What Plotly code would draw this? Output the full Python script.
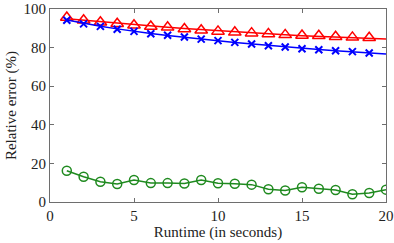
import plotly.graph_objects as go

runtime = list(range(1, 20))
runtime_line = list(range(1, 21))
red_pts = [95.6, 94.2, 93.1, 92.4, 91.6, 90.9, 90.5, 89.6, 89.0, 88.4, 87.9, 87.5, 87.1, 86.6, 86.3, 86.1, 85.6, 85.3, 85.1]
red_fit = [95.0, 94.2, 93.4, 92.6, 91.9, 91.2, 90.5, 89.9, 89.3, 88.7, 88.1, 87.6, 87.1, 86.6, 86.2, 85.8, 85.4, 85.1, 84.8, 84.5]
blue_pts = [94.2, 92.3, 91.0, 89.5, 88.4, 87.2, 86.4, 85.5, 84.4, 83.6, 82.7, 81.9, 81.0, 80.3, 79.4, 78.9, 78.4, 77.9, 77.2]
blue_fit = [94.3, 92.6, 91.1, 89.7, 88.4, 87.3, 86.3, 85.3, 84.4, 83.5, 82.7, 81.9, 81.1, 80.4, 79.7, 79.0, 78.4, 77.8, 77.2, 76.7]
green_x = list(range(1, 21))
green = [16.2, 13.1, 10.5, 9.3, 11.4, 9.8, 9.8, 9.6, 11.4, 9.7, 9.5, 9.0, 6.6, 6.0, 7.6, 6.9, 6.2, 4.0, 4.7, 6.4]

RED = "#ff0000"
BLUE = "#0000ff"
GREEN = "#1f8a1f"
FONT = "Liberation Serif"

fig = go.Figure()
fig.add_trace(go.Scatter(x=runtime_line, y=red_fit, mode="lines",
                         line=dict(color=RED, width=1.5), showlegend=False))
fig.add_trace(go.Scatter(x=runtime, y=red_pts, mode="markers",
                         marker=dict(symbol="triangle-up-open", size=11, color=RED,
                                     line=dict(width=1.5, color=RED)), showlegend=False))
fig.add_trace(go.Scatter(x=runtime_line, y=blue_fit, mode="lines",
                         line=dict(color=BLUE, width=1.5), showlegend=False))
fig.add_trace(go.Scatter(x=runtime, y=blue_pts, mode="markers",
                         marker=dict(symbol="x-thin", size=7, color=BLUE,
                                     line=dict(width=2, color=BLUE)), showlegend=False))
fig.add_trace(go.Scatter(x=green_x, y=green, mode="lines+markers",
                         line=dict(color=GREEN, width=1.5),
                         marker=dict(symbol="circle-open", size=9, color=GREEN,
                                     line=dict(width=1.5, color=GREEN)), showlegend=False))

axis_common = dict(showgrid=False, zeroline=False, showline=True, linecolor="#6e6e6e",
                   linewidth=1, mirror="ticks", ticks="inside", ticklen=4, automargin=False,
                   tickcolor="#6e6e6e", tickfont=dict(family=FONT, size=15, color="#222"))
fig.update_xaxes(range=[0, 20], tickvals=[0, 5, 10, 15, 20],
                 title=dict(text="Runtime (in seconds)", font=dict(family=FONT, size=15, color="#222"), standoff=1),
                 **axis_common)
fig.update_yaxes(range=[0, 100], tickvals=[0, 20, 40, 60, 80, 100],
                 title=dict(text="Relative error (%)", font=dict(family=FONT, size=15, color="#222"), standoff=3),
                 **axis_common)
fig.update_layout(width=394, height=243, margin=dict(l=50, r=8, t=9, b=41),
                  plot_bgcolor="white", paper_bgcolor="white",
                  font=dict(family=FONT))
fig.write_html("out.html", config={"displayModeBar": False})

with open("out.html", "r", encoding="utf-8") as f:
    html = f.read()
html = html.replace("<body>", '<body style="margin:0;padding:0;">', 1)
with open("out.html", "w", encoding="utf-8") as f:
    f.write(html)
